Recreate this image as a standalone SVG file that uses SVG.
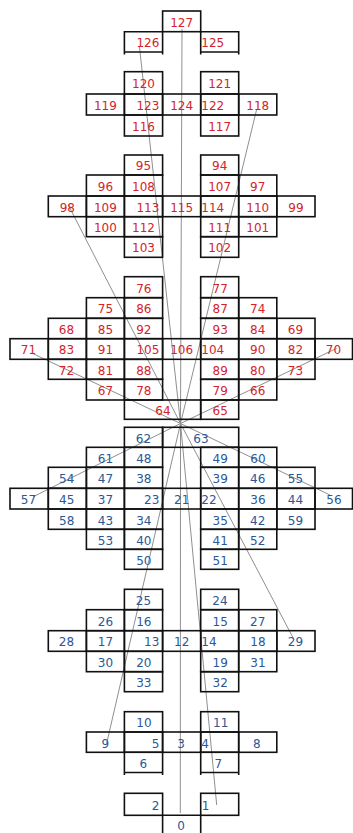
<svg xmlns="http://www.w3.org/2000/svg" width="353" height="833" viewBox="0 0 353 833">
<style>
rect,path.c{fill:none;stroke:#111;stroke-width:1.6}
text{font-family:"DejaVu Sans","Liberation Sans",sans-serif;font-size:12px;text-anchor:middle}
.r{fill:#d3232b}
.b{fill:#2b5797}
.e{text-anchor:end}
.s{text-anchor:start}
</style>
<rect x="0" y="0" width="353" height="833" style="fill:#fff;stroke:none"/>
<g id="connectors" stroke="#8f8f8f" stroke-width="1" fill="none">
<line x1="182" y1="29" x2="180.5" y2="423.5"/>
<line x1="139.5" y1="47" x2="180.5" y2="423.5"/>
<line x1="256.5" y1="110" x2="180.5" y2="423.5"/>
<line x1="68.3" y1="205" x2="180.5" y2="423.5"/>
<line x1="31.7" y1="353" x2="180.5" y2="423.5"/>
<line x1="336.7" y1="348.3" x2="180.5" y2="423.5"/>
<line x1="33.3" y1="496.7" x2="180.5" y2="423.5"/>
<line x1="330" y1="495" x2="180.5" y2="423.5"/>
<line x1="293.3" y1="638.3" x2="180.5" y2="423.5"/>
<line x1="106.7" y1="743.3" x2="180.5" y2="423.5"/>
<line x1="216.7" y1="805" x2="180.5" y2="423.5"/>
<line x1="180.3" y1="813" x2="180.5" y2="423.5"/>
</g>
<!-- Block A -->
<g id="n127"><rect x="162.6" y="11" width="38.1" height="20.7"/><text class="r" x="181.65" y="26.6">127</text></g>
<g id="n126"><path class="c" d="M124.4 54.5V31.7H162.6V54.5M124.4 52H162.6"/><text class="r e" x="159.3" y="47.2">126</text></g>
<g id="n125"><path class="c" d="M200.7 54.5V31.7H238.7V54.5M200.7 52H238.7"/><text class="r s" x="201.3" y="47.2">125</text></g>
<!-- Block B -->
<g id="n120"><rect x="124.4" y="71.7" width="38.2" height="22.3"/><text class="r" x="143.5" y="88.2">120</text></g>
<g id="n121"><rect x="200.7" y="71.7" width="38" height="22.3"/><text class="r" x="219.7" y="88.2">121</text></g>
<g id="n119"><rect x="86.4" y="94" width="38" height="21"/><text class="r" x="105.4" y="109.8">119</text></g>
<g id="n123"><rect x="124.4" y="94" width="38.2" height="21"/><text class="r e" x="159.3" y="109.8">123</text></g>
<g id="n124"><rect x="162.6" y="94" width="38.1" height="21"/><text class="r" x="181.65" y="109.8">124</text></g>
<g id="n122"><rect x="200.7" y="94" width="38" height="21"/><text class="r s" x="201.3" y="109.8">122</text></g>
<g id="n118"><rect x="238.7" y="94" width="38.1" height="21"/><text class="r" x="257.75" y="109.8">118</text></g>
<g id="n116"><rect x="124.4" y="115" width="38.2" height="21"/><text class="r" x="143.5" y="130.8">116</text></g>
<g id="n117"><rect x="200.7" y="115" width="38" height="21"/><text class="r" x="219.7" y="130.8">117</text></g>
<!-- Block C -->
<g id="n95"><rect x="124.4" y="155" width="38.2" height="20"/><text class="r" x="143.5" y="170.3">95</text></g>
<g id="n94"><rect x="200.7" y="155" width="38" height="20"/><text class="r" x="219.7" y="170.3">94</text></g>
<g id="n96"><rect x="86.4" y="175" width="38" height="21"/><text class="r" x="105.4" y="190.8">96</text></g>
<g id="n108"><rect x="124.4" y="175" width="38.2" height="21"/><text class="r" x="143.5" y="190.8">108</text></g>
<g id="n107"><rect x="200.7" y="175" width="38" height="21"/><text class="r" x="219.7" y="190.8">107</text></g>
<g id="n97"><rect x="238.7" y="175" width="38.1" height="21"/><text class="r" x="257.75" y="190.8">97</text></g>
<g id="n98"><rect x="48.3" y="196" width="38.1" height="20.7"/><text class="r" x="67.35" y="211.7">98</text></g>
<g id="n109"><rect x="86.4" y="196" width="38" height="20.7"/><text class="r" x="105.4" y="211.7">109</text></g>
<g id="n113"><rect x="124.4" y="196" width="38.2" height="20.7"/><text class="r e" x="159.3" y="211.7">113</text></g>
<g id="n115"><rect x="162.6" y="196" width="38.1" height="20.7"/><text class="r" x="181.65" y="211.7">115</text></g>
<g id="n114"><rect x="200.7" y="196" width="38" height="20.7"/><text class="r s" x="201.3" y="211.7">114</text></g>
<g id="n110"><rect x="238.7" y="196" width="38.1" height="20.7"/><text class="r" x="257.75" y="211.7">110</text></g>
<g id="n99"><rect x="276.8" y="196" width="38.2" height="20.7"/><text class="r" x="295.9" y="211.7">99</text></g>
<g id="n100"><rect x="86.4" y="216.7" width="38" height="20"/><text class="r" x="105.4" y="232">100</text></g>
<g id="n112"><rect x="124.4" y="216.7" width="38.2" height="20"/><text class="r" x="143.5" y="232">112</text></g>
<g id="n111"><rect x="200.7" y="216.7" width="38" height="20"/><text class="r" x="219.7" y="232">111</text></g>
<g id="n101"><rect x="238.7" y="216.7" width="38.1" height="20"/><text class="r" x="257.75" y="232">101</text></g>
<g id="n103"><rect x="124.4" y="236.7" width="38.2" height="20.6"/><text class="r" x="143.5" y="252.3">103</text></g>
<g id="n102"><rect x="200.7" y="236.7" width="38" height="20.6"/><text class="r" x="219.7" y="252.3">102</text></g>
<!-- Block D -->
<g id="n76"><rect x="124.4" y="276.7" width="38.2" height="21"/><text class="r" x="143.8" y="292.5">76</text></g>
<g id="n77"><rect x="200.7" y="276.7" width="38" height="21"/><text class="r" x="220.2" y="292.5">77</text></g>
<g id="n75"><rect x="86.4" y="297.7" width="38" height="20.6"/><text class="r" x="105.4" y="313.3">75</text></g>
<g id="n86"><rect x="124.4" y="297.7" width="38.2" height="20.6"/><text class="r" x="143.8" y="313.3">86</text></g>
<g id="n87"><rect x="200.7" y="297.7" width="38" height="20.6"/><text class="r" x="220.2" y="313.3">87</text></g>
<g id="n74"><rect x="238.7" y="297.7" width="38.1" height="20.6"/><text class="r" x="257.75" y="313.3">74</text></g>
<g id="n68"><rect x="48.3" y="318.3" width="38.1" height="20.4"/><text class="r" x="66.5" y="333.8">68</text></g>
<g id="n85"><rect x="86.4" y="318.3" width="38" height="20.4"/><text class="r" x="105.4" y="333.8">85</text></g>
<g id="n92"><rect x="124.4" y="318.3" width="38.2" height="20.4"/><text class="r" x="143.8" y="333.8">92</text></g>
<g id="n93"><rect x="200.7" y="318.3" width="38" height="20.4"/><text class="r" x="220.2" y="333.8">93</text></g>
<g id="n84"><rect x="238.7" y="318.3" width="38.1" height="20.4"/><text class="r" x="257.75" y="333.8">84</text></g>
<g id="n69"><rect x="276.8" y="318.3" width="38.2" height="20.4"/><text class="r" x="295.5" y="333.8">69</text></g>
<g id="n71"><rect x="10" y="338.7" width="38.3" height="20.6"/><text class="r" x="28.5" y="354.3">71</text></g>
<g id="n83"><rect x="48.3" y="338.7" width="38.1" height="20.6"/><text class="r" x="66.5" y="354.3">83</text></g>
<g id="n91"><rect x="86.4" y="338.7" width="38" height="20.6"/><text class="r" x="105.4" y="354.3">91</text></g>
<g id="n105"><rect x="124.4" y="338.7" width="38.2" height="20.6"/><text class="r e" x="159.3" y="354.3">105</text></g>
<g id="n106"><rect x="162.6" y="338.7" width="38.1" height="20.6"/><text class="r" x="181.65" y="354.3">106</text></g>
<g id="n104"><rect x="200.7" y="338.7" width="38" height="20.6"/><text class="r s" x="201.3" y="354.3">104</text></g>
<g id="n90"><rect x="238.7" y="338.7" width="38.1" height="20.6"/><text class="r" x="257.75" y="354.3">90</text></g>
<g id="n82"><rect x="276.8" y="338.7" width="38.2" height="20.6"/><text class="r" x="295.5" y="354.3">82</text></g>
<g id="n70"><rect x="315" y="338.7" width="37.5" height="20.6"/><text class="r" x="333.5" y="354.3">70</text></g>
<g id="n72"><rect x="48.3" y="359.3" width="38.1" height="20"/><text class="r" x="66.5" y="374.6">72</text></g>
<g id="n81"><rect x="86.4" y="359.3" width="38" height="20"/><text class="r" x="105.4" y="374.6">81</text></g>
<g id="n88"><rect x="124.4" y="359.3" width="38.2" height="20"/><text class="r" x="143.8" y="374.6">88</text></g>
<g id="n89"><rect x="200.7" y="359.3" width="38" height="20"/><text class="r" x="220.2" y="374.6">89</text></g>
<g id="n80"><rect x="238.7" y="359.3" width="38.1" height="20"/><text class="r" x="257.75" y="374.6">80</text></g>
<g id="n73"><rect x="276.8" y="359.3" width="38.2" height="20"/><text class="r" x="295.5" y="374.6">73</text></g>
<g id="n67"><rect x="86.4" y="379.3" width="38" height="20.7"/><text class="r" x="105.4" y="395">67</text></g>
<g id="n78"><rect x="124.4" y="379.3" width="38.2" height="20.7"/><text class="r" x="143.8" y="395">78</text></g>
<g id="n79"><rect x="200.7" y="379.3" width="38" height="20.7"/><text class="r" x="220.2" y="395">79</text></g>
<g id="n66"><rect x="238.7" y="379.3" width="38.1" height="20.7"/><text class="r" x="257.75" y="395">66</text></g>
<g id="n64"><rect x="124.4" y="400" width="76.3" height="19.3"/><text class="r" x="163" y="415">64</text></g>
<g id="n65"><rect x="200.7" y="400" width="38" height="19.3"/><text class="r" x="220.2" y="415">65</text></g>
<!-- Block E -->
<g id="n62"><rect x="124.4" y="427.3" width="38.2" height="20"/><text class="b" x="143.5" y="442.6">62</text></g>
<g id="n63"><rect x="162.6" y="427.3" width="76.1" height="20"/><text class="b" x="201" y="442.6">63</text></g>
<g id="n61"><rect x="86.4" y="447.3" width="38" height="20"/><text class="b" x="105.4" y="462.6">61</text></g>
<g id="n48"><rect x="124.4" y="447.3" width="38.2" height="20"/><text class="b" x="143.8" y="462.6">48</text></g>
<g id="n49"><rect x="200.7" y="447.3" width="38" height="20"/><text class="b" x="220.2" y="462.6">49</text></g>
<g id="n60"><rect x="238.7" y="447.3" width="38.1" height="20"/><text class="b" x="258" y="462.6">60</text></g>
<g id="n54"><rect x="48.3" y="467.3" width="38.1" height="21"/><text class="b" x="66.7" y="483.1">54</text></g>
<g id="n47"><rect x="86.4" y="467.3" width="38" height="21"/><text class="b" x="105.4" y="483.1">47</text></g>
<g id="n38"><rect x="124.4" y="467.3" width="38.2" height="21"/><text class="b" x="143.8" y="483.1">38</text></g>
<g id="n39"><rect x="200.7" y="467.3" width="38" height="21"/><text class="b" x="220.2" y="483.1">39</text></g>
<g id="n46"><rect x="238.7" y="467.3" width="38.1" height="21"/><text class="b" x="257.75" y="483.1">46</text></g>
<g id="n55"><rect x="276.8" y="467.3" width="38.2" height="21"/><text class="b" x="295.5" y="483.1">55</text></g>
<g id="n57"><rect x="10" y="488.3" width="38.3" height="20.7"/><text class="b" x="28.5" y="504">57</text></g>
<g id="n45"><rect x="48.3" y="488.3" width="38.1" height="20.7"/><text class="b" x="66.7" y="504">45</text></g>
<g id="n37"><rect x="86.4" y="488.3" width="38" height="20.7"/><text class="b" x="105.4" y="504">37</text></g>
<g id="n23"><rect x="124.4" y="488.3" width="38.2" height="20.7"/><text class="b e" x="159.3" y="504">23</text></g>
<g id="n21"><rect x="162.6" y="488.3" width="38.1" height="20.7"/><text class="b" x="181.65" y="504">21</text></g>
<g id="n22"><rect x="200.7" y="488.3" width="38" height="20.7"/><text class="b s" x="201.3" y="504">22</text></g>
<g id="n36"><rect x="238.7" y="488.3" width="38.1" height="20.7"/><text class="b" x="258" y="504">36</text></g>
<g id="n44"><rect x="276.8" y="488.3" width="38.2" height="20.7"/><text class="b" x="295.5" y="504">44</text></g>
<g id="n56"><rect x="315" y="488.3" width="37.5" height="20.7"/><text class="b" x="334" y="504">56</text></g>
<g id="n58"><rect x="48.3" y="509" width="38.1" height="20.3"/><text class="b" x="66.7" y="524.5">58</text></g>
<g id="n43"><rect x="86.4" y="509" width="38" height="20.3"/><text class="b" x="105.4" y="524.5">43</text></g>
<g id="n34"><rect x="124.4" y="509" width="38.2" height="20.3"/><text class="b" x="143.8" y="524.5">34</text></g>
<g id="n35"><rect x="200.7" y="509" width="38" height="20.3"/><text class="b" x="220.2" y="524.5">35</text></g>
<g id="n42"><rect x="238.7" y="509" width="38.1" height="20.3"/><text class="b" x="257.75" y="524.5">42</text></g>
<g id="n59"><rect x="276.8" y="509" width="38.2" height="20.3"/><text class="b" x="295.5" y="524.5">59</text></g>
<g id="n53"><rect x="86.4" y="529.3" width="38" height="20"/><text class="b" x="105.4" y="544.6">53</text></g>
<g id="n40"><rect x="124.4" y="529.3" width="38.2" height="20"/><text class="b" x="143.8" y="544.6">40</text></g>
<g id="n41"><rect x="200.7" y="529.3" width="38" height="20"/><text class="b" x="220.2" y="544.6">41</text></g>
<g id="n52"><rect x="238.7" y="529.3" width="38.1" height="20"/><text class="b" x="257.75" y="544.6">52</text></g>
<g id="n50"><rect x="124.4" y="549.3" width="38.2" height="20"/><text class="b" x="143.8" y="564.6">50</text></g>
<g id="n51"><rect x="200.7" y="549.3" width="38" height="20"/><text class="b" x="220.2" y="564.6">51</text></g>
<!-- Block F -->
<g id="n25"><rect x="124.4" y="589.3" width="38.2" height="20.4"/><text class="b" x="143.5" y="604.8">25</text></g>
<g id="n24"><rect x="200.7" y="589.3" width="38" height="20.4"/><text class="b" x="220" y="604.8">24</text></g>
<g id="n26"><rect x="86.4" y="609.7" width="38" height="21"/><text class="b" x="105.4" y="625.5">26</text></g>
<g id="n16"><rect x="124.4" y="609.7" width="38.2" height="21"/><text class="b" x="143.8" y="625.5">16</text></g>
<g id="n15"><rect x="200.7" y="609.7" width="38" height="21"/><text class="b" x="220.2" y="625.5">15</text></g>
<g id="n27"><rect x="238.7" y="609.7" width="38.1" height="21"/><text class="b" x="257.75" y="625.5">27</text></g>
<g id="n28"><rect x="48.3" y="630.7" width="38.1" height="20.6"/><text class="b" x="66.5" y="646.3">28</text></g>
<g id="n17"><rect x="86.4" y="630.7" width="38" height="20.6"/><text class="b" x="105.4" y="646.3">17</text></g>
<g id="n13"><rect x="124.4" y="630.7" width="38.2" height="20.6"/><text class="b e" x="159.3" y="646.3">13</text></g>
<g id="n12"><rect x="162.6" y="630.7" width="38.1" height="20.6"/><text class="b" x="181.65" y="646.3">12</text></g>
<g id="n14"><rect x="200.7" y="630.7" width="38" height="20.6"/><text class="b s" x="201.3" y="646.3">14</text></g>
<g id="n18"><rect x="238.7" y="630.7" width="38.1" height="20.6"/><text class="b" x="258" y="646.3">18</text></g>
<g id="n29"><rect x="276.8" y="630.7" width="38.2" height="20.6"/><text class="b" x="295.5" y="646.3">29</text></g>
<g id="n30"><rect x="86.4" y="651.3" width="38" height="20.4"/><text class="b" x="105.4" y="666.8">30</text></g>
<g id="n20"><rect x="124.4" y="651.3" width="38.2" height="20.4"/><text class="b" x="143.8" y="666.8">20</text></g>
<g id="n19"><rect x="200.7" y="651.3" width="38" height="20.4"/><text class="b" x="220.2" y="666.8">19</text></g>
<g id="n31"><rect x="238.7" y="651.3" width="38.1" height="20.4"/><text class="b" x="258" y="666.8">31</text></g>
<g id="n33"><rect x="124.4" y="671.7" width="38.2" height="20"/><text class="b" x="143.8" y="687">33</text></g>
<g id="n32"><rect x="200.7" y="671.7" width="38" height="20"/><text class="b" x="220.2" y="687">32</text></g>
<!-- Block G -->
<g id="n10"><rect x="124.4" y="711.7" width="38.2" height="20.3"/><text class="b" x="144" y="727.2">10</text></g>
<g id="n11"><rect x="200.7" y="711.7" width="38" height="20.3"/><text class="b" x="220.7" y="727.2">11</text></g>
<g id="n9"><rect x="86.4" y="732" width="38" height="20.3"/><text class="b" x="105.2" y="747.5">9</text></g>
<g id="n5"><rect x="124.4" y="732" width="38.2" height="20.3"/><text class="b e" x="159.3" y="747.5">5</text></g>
<g id="n3"><rect x="162.6" y="732" width="38.1" height="20.3"/><text class="b" x="181" y="747.5">3</text></g>
<g id="n4"><rect x="200.7" y="732" width="38" height="20.3"/><text class="b s" x="201.3" y="747.5">4</text></g>
<g id="n8"><rect x="238.7" y="732" width="38.1" height="20.3"/><text class="b" x="256.7" y="747.5">8</text></g>
<g id="n6"><path class="c" d="M124.4 775V752.3H162.6V775M124.4 772.5H162.6"/><text class="b" x="143.3" y="767.7">6</text></g>
<g id="n7"><path class="c" d="M200.7 775V752.3H238.7V775M200.7 772.5H238.7"/><text class="b" x="218.3" y="767.7">7</text></g>
<!-- Block H -->
<g id="n2"><rect x="124.4" y="793.3" width="38.2" height="22"/><text class="b e" x="159.3" y="809.6">2</text></g>
<g id="n1"><rect x="200.7" y="793.3" width="38" height="22"/><text class="b s" x="201.8" y="809.6">1</text></g>
<g id="n0"><path class="c" d="M162.6 835V815.3H200.7V835"/><text class="b" x="181" y="830.4">0</text></g>
</svg>
